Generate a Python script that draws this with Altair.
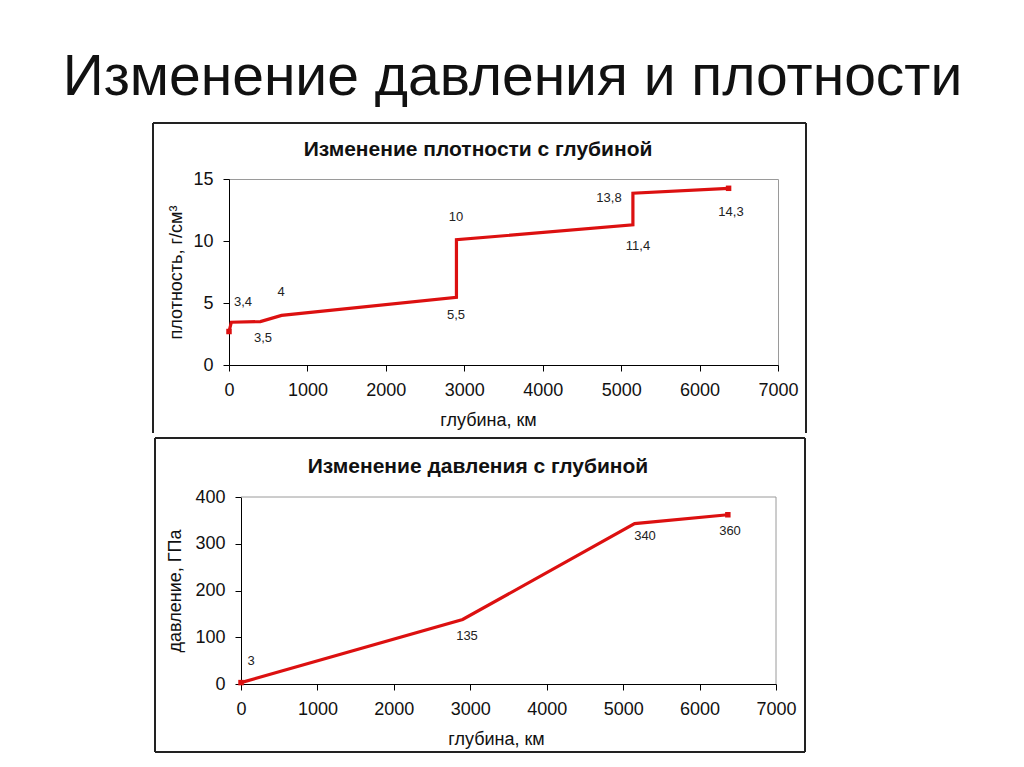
import altair as alt
import pandas as pd

# ---- data ----
depth_rho = [0, 30, 400, 670, 2900, 2900, 5150, 5150, 6370]
rho = [2.7, 3.45, 3.5, 4.0, 5.45, 10.1, 11.3, 13.85, 14.25]

rho_label_text = ["3,4", "4", "3,5", "5,5", "10", "11,4", "13,8", "14,3"]
rho_label_x = [178, 663, 434, 2894, 2894, 5215, 4845, 6401]
rho_label_y = [5.08, 5.9, 2.18, 4.03, 11.9, 9.6, 13.5, 12.3]

depth_p = [0, 2900, 5150, 6370]
pressure = [3, 138, 343, 362]

p_label_text = ["3", "135", "340", "360"]
p_label_x = [131, 2957, 5286, 6398]
p_label_y = [49, 103, 317, 327]

x_ticks = [0, 1000, 2000, 3000, 4000, 5000, 6000, 7000]
rho_ticks = [0, 5, 10, 15]
p_ticks = [0, 100, 200, 300, 400]

RED = "#dc1010"
FONT = "Liberation Sans"

rho_df = pd.DataFrame({"depth": depth_rho, "val": rho})
rho_lab = pd.DataFrame({"depth": rho_label_x, "val": rho_label_y, "t": rho_label_text})
p_df = pd.DataFrame({"depth": depth_p, "val": pressure})
p_lab = pd.DataFrame({"depth": p_label_x, "val": p_label_y, "t": p_label_text})


def panel(df, lab, ymax, yticks, ytitle, title, w, h, ytx, xtx, frame, title_pos,
          top_frame_only, shift=0):
    xs = alt.Scale(domain=[0, 7000], nice=False, zero=False, range=[shift, w])
    ys = alt.Scale(domain=[0, ymax], nice=False)
    xax = alt.Axis(values=x_ticks, format="d", title="глубина, км", grid=False, tickSize=6,
                   labelPadding=10, labelFontSize=18, titleFontSize=18,
                   titleFontWeight="normal", titleX=xtx + shift, titleY=55,
                   titleBaseline="middle", domainColor="black", tickColor="black",
                   labelColor="#111111", titleColor="#111111", labelFlush=False)
    yax = alt.Axis(values=yticks, format="d", title=ytitle, grid=False, tickSize=6,
                   labelPadding=10, labelFontSize=18, titleFontSize=18,
                   titleFontWeight="normal", titleX=ytx, titleY=h / 2,
                   titleBaseline="middle", titleAngle=270, offset=-shift,
                   domainColor="black", tickColor="black",
                   labelColor="#111111", titleColor="#111111", labelFlush=False)
    line = alt.Chart(df).mark_line(color=RED, strokeWidth=3.2).encode(
        x=alt.X("depth:Q", scale=xs, axis=xax),
        y=alt.Y("val:Q", scale=ys, axis=yax),
    )
    ends = alt.Chart(df.iloc[[0, -1]]).mark_square(color=RED, size=30, opacity=1).encode(
        x=alt.X("depth:Q", scale=xs), y=alt.Y("val:Q", scale=ys)
    )
    labels = alt.Chart(lab).mark_text(fontSize=13, color="#222222", font=FONT).encode(
        x=alt.X("depth:Q", scale=xs), y=alt.Y("val:Q", scale=ys), text="t:N"
    )
    fl, fr, ft, fb = frame
    fdata = alt.Data(values=[{"a": 1}])
    ttl = alt.Chart(alt.Data(values=[{"t": title}])).mark_text(
        fontSize=21, fontWeight="bold", font=FONT, color="#111111",
        align="center", baseline="middle").encode(
        x=alt.value(title_pos[0] + shift), y=alt.value(title_pos[1]), text="t:N")
    parts = []
    if shift:
        # plot-area border (top and right), light gray
        parts += [
            alt.Chart(fdata).mark_rule(color="#9a9a9a", strokeWidth=1).encode(
                x=alt.value(shift), x2=alt.value(w), y=alt.value(0)),
            alt.Chart(fdata).mark_rule(color="#9a9a9a", strokeWidth=1).encode(
                x=alt.value(w), y=alt.value(0), y2=alt.value(h)),
        ]
    parts += [
        alt.Chart(fdata).mark_rule(color="#222222", strokeWidth=2).encode(
            x=alt.value(fl + shift), x2=alt.value(fr + shift), y=alt.value(ft)),
        alt.Chart(fdata).mark_rule(color="#222222", strokeWidth=2).encode(
            x=alt.value(fl + shift), y=alt.value(ft), y2=alt.value(fb)),
        alt.Chart(fdata).mark_rule(color="#222222", strokeWidth=2).encode(
            x=alt.value(fr + shift), y=alt.value(ft), y2=alt.value(fb)),
    ]
    if not top_frame_only:
        parts.append(alt.Chart(fdata).mark_rule(color="#222222", strokeWidth=2).encode(
            x=alt.value(fl + shift), x2=alt.value(fr + shift), y=alt.value(fb)))
    ch = alt.layer(line, ends, labels, ttl, *parts).properties(width=w, height=h)
    if shift:
        ch = ch.properties(view=alt.ViewBackground(stroke="transparent"))
    return ch


top = panel(rho_df, rho_lab, 15, rho_ticks, "плотность, г/см³",
            "Изменение плотности с глубиной", 549, 186, -53, 259,
            (-76, 577, -56, 254), (249, -29), True)
bottom = panel(p_df, p_lab, 400, p_ticks, "давление, ГПа",
               "Изменение давления с глубиной", 547, 187, -66, 255,
               (-86, 564, -59, 255), (237, -30), False, shift=12)

chart = alt.concat(top, bottom, columns=1, spacing=1).properties(
    title=alt.TitleParams("Изменение давления и плотности", fontSize=57,
                          fontWeight="normal", font=FONT, color="#111111",
                          anchor="middle", dx=33, offset=15),
    padding={"left": 54, "top": 40, "right": 10, "bottom": 5},
).configure(font=FONT).configure_view(stroke="#9a9a9a", strokeWidth=1)

chart.save("out.html", embed_options={"renderer": "svg", "actions": False})
